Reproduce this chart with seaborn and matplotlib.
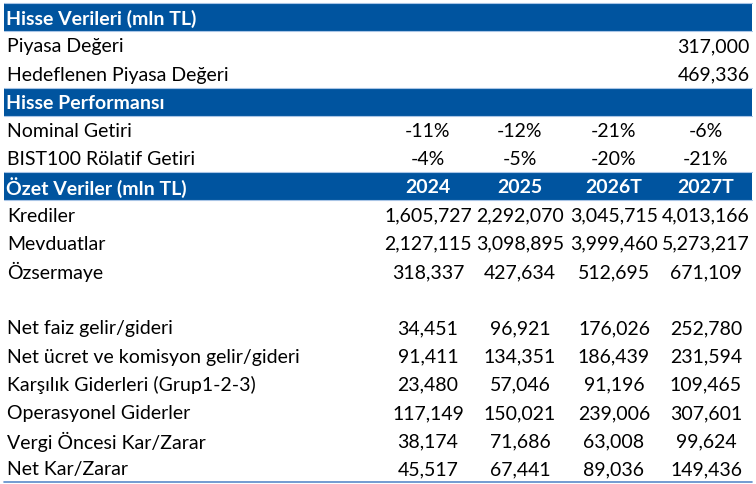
import matplotlib
matplotlib.use("Agg")
import matplotlib.pyplot as plt
import seaborn as sns

# ---- data ----
years = ["2024", "2025", "2026T", "2027T"]
section_titles = ["Hisse Verileri (mln TL)", "Hisse Performansı", "Özet Veriler (mln TL)"]

market_labels = ["Piyasa Değeri", "Hedeflenen Piyasa Değeri"]
market_values = [317000, 469336]

perf_labels = ["Nominal Getiri", "BIST100 Rölatif Getiri"]
nominal_return = [-11, -12, -21, -6]
relative_return = [-4, -5, -20, -21]

balance_labels = ["Krediler", "Mevduatlar", "Özsermaye"]
krediler = [1605727, 2292070, 3045715, 4013166]
mevduatlar = [2127115, 3098895, 3999460, 5273217]
ozsermaye = [318337, 427634, 512695, 671109]

income_labels = ["Net faiz gelir/gideri", "Net ücret ve komisyon gelir/gideri",
                 "Karşılık Giderleri (Grup1-2-3)", "Operasyonel Giderler",
                 "Vergi Öncesi Kar/Zarar", "Net Kar/Zarar"]
net_faiz = [34451, 96921, 176026, 252780]
net_ucret = [91411, 134351, 186439, 231594]
karsilik = [23480, 57046, 91196, 109465]
operasyonel = [117149, 150021, 239006, 307601]
vergi_oncesi = [38174, 71686, 63008, 99624]
net_kar = [45517, 67441, 89036, 149436]

# ---- style ----
sns.set_theme(style="white")
plt.rcParams["font.family"] = ["Lato", "DejaVu Sans"]

W, H = 756, 484
fig = plt.figure(figsize=(W / 100, H / 100), dpi=100)
ax = fig.add_axes([0, 0, 1, 1])
ax.set_xlim(0, W)
ax.set_ylim(H, 0)
ax.axis("off")

HEADER = "#00549F"
LIGHT = "#A9C5E6"
top, pitch = 3.0, 28.2
x0, x1 = 4, 752
label_x = 7
col_x = [428, 520, 614, 706]
fs = 14.0
dy = 1.5


def row_center(i):
    return top + (i + 0.5) * pitch + dy


def header(i, title, cols=None):
    y0 = top + i * pitch
    ax.add_patch(plt.Rectangle((x0, y0), x1 - x0, pitch, color=HEADER, lw=0))
    ax.plot([x0, x1], [y0, y0], color=LIGHT, lw=0.8)
    ax.plot([x0, x1], [y0 + pitch, y0 + pitch], color=LIGHT, lw=0.8)
    ax.text(label_x - 1, row_center(i), title, color="white", fontweight="bold",
            fontsize=fs, va="center", ha="left")
    if cols:
        for cx, c in zip(col_x, cols):
            ax.text(cx, row_center(i), c, color="white", fontweight="bold",
                    fontsize=fs, va="center", ha="center")


def label(i, text):
    ax.text(label_x, row_center(i), text, color="black", fontsize=fs,
            va="center", ha="left")


def values(i, vals, fmt):
    for cx, v in zip(col_x, vals):
        ax.text(cx, row_center(i), fmt(v), color="black", fontsize=fs,
                va="center", ha="center")


num = lambda v: f"{v:,}"
pct = lambda v: f"{v}%"

r = 0
header(r, section_titles[0]); r += 1
for lab, v in zip(market_labels, market_values):
    label(r, lab)
    ax.text(750, row_center(r), num(v), color="black", fontsize=fs,
            va="center", ha="right")
    r += 1

header(r, section_titles[1]); r += 1
for lab, vals in zip(perf_labels, [nominal_return, relative_return]):
    label(r, lab)
    values(r, vals, pct)
    r += 1

header(r, section_titles[2], years); r += 1
for lab, vals in zip(balance_labels, [krediler, mevduatlar, ozsermaye]):
    label(r, lab)
    values(r, vals, num)
    r += 1
r += 1  # blank row
for lab, vals in zip(income_labels, [net_faiz, net_ucret, karsilik,
                                     operasyonel, vergi_oncesi, net_kar]):
    label(r, lab)
    values(r, vals, num)
    r += 1

yb = top + r * pitch
ax.plot([x0, x1], [yb, yb], color="#5B8BC9", lw=1.2)

fig.savefig("out.png", dpi=100)
